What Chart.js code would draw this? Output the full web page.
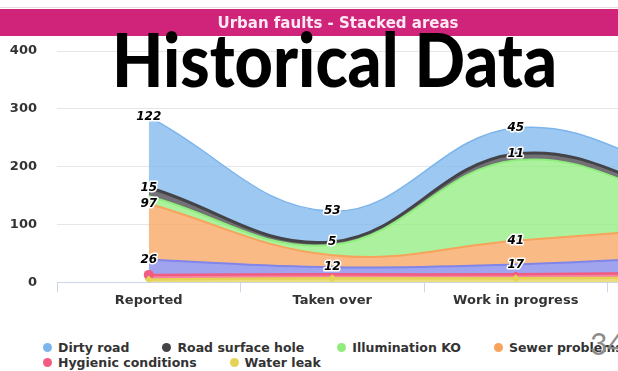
<!DOCTYPE html>
<html>
<head>
<meta charset="utf-8">
<script src="https://cdn.jsdelivr.net/npm/chart.js@4.4.1/dist/chart.umd.min.js"></script>
<style>
  html, body { margin: 0; padding: 0; background: #fff; }
  #slide { position: relative; width: 618px; height: 371px; overflow: hidden; }
  #chartBox { position: absolute; left: 0; top: 0; width: 800px; height: 320px; }
  #legend {
    position: absolute; left: 43px; top: 340px; width: 760px;
    display: flex; flex-wrap: wrap; column-gap: 33px;
    font: bold 12.5px "DejaVu Sans"; color: #333; line-height: 15px;
  }
  .item { display: flex; align-items: center; white-space: nowrap; }
  .dot { width: 9px; height: 9px; border-radius: 50%; margin-right: 6px; }
  #pageNo { position: absolute; left: 590px; top: 325px; font: 30px Lato; color: #8c8c8c; }
</style>
</head>
<body>
<div id="slide">
  <div id="chartBox"><canvas id="faultsChart" width="800" height="320"></canvas></div>
  <div id="legend"></div>
  <div id="pageNo">34</div>
</div>
<script>
const categories = ["Reported", "Taken over", "Work in progress", "Closed"];

// stacked from the bottom up
const waterLeak = [5, 7, 7, 8];
const hygienicConditions = [8, 7, 7, 9];
const damagedSigns = [26, 12, 17, 28];
const sewerProblems = [97, 21, 41, 51];
const illuminationKO = [13, 18, 139, 34];
const roadSurfaceHole = [15, 5, 11, 10];
const dirtyRoad = [122, 53, 45, 38];

const yTicks = [0, 100, 200, 300, 400];

function series(label, data, color, fill, opts) {
  return Object.assign({
    label: label,
    data: data,
    borderColor: color,
    backgroundColor: color + "bf",
    borderWidth: 2,
    fill: fill,
    pointRadius: 0
  }, opts || {});
}

const datasets = [
  series("Water leak", waterLeak, "#e4d354", "origin", {
    borderWidth: 2.5, pointStyle: "rectRot", pointRadius: [4, 4, 4, 0],
    pointBackgroundColor: "#e4d354", pointBorderWidth: 0
  }),
  series("Hygienic conditions", hygienicConditions, "#f15c80", "-1", {
    borderWidth: 2.5, pointRadius: [5, 0, 2.5, 0],
    pointBackgroundColor: "#f15c80", pointBorderWidth: 0
  }),
  series("Damaged signs", damagedSigns, "#8085e9", "-1", { showValues: true }),
  series("Sewer problems", sewerProblems, "#f7a35c", "-1", { showValues: true }),
  series("Illumination KO", illuminationKO, "#90ed7d", "-1"),
  series("Road surface hole", roadSurfaceHole, "#434348", "-1", { borderWidth: 3, showValues: true }),
  series("Dirty road", dirtyRoad, "#7cb5ec", "-1", { borderWidth: 1.5, showValues: true })
];

// magenta header bar behind the plot, big overlay caption on top
const slideDecor = {
  id: "slideDecor",
  beforeDraw(chart) {
    const ctx = chart.ctx;
    ctx.save();
    ctx.fillStyle = "#eadbe3";
    ctx.fillRect(0, 7, chart.width, 1);
    ctx.fillStyle = "#cf2479";
    ctx.fillRect(0, 9, chart.width, 27);
    ctx.fillStyle = "#fbeaf3";
    ctx.font = 'bold 15px "DejaVu Sans"';
    ctx.textAlign = "center";
    ctx.textBaseline = "alphabetic";
    ctx.fillText("Urban faults - Stacked areas", 338, 28);
    ctx.restore();
  },
  afterDraw(chart) {
    const ctx = chart.ctx;
    const text = "Historical Data";
    ctx.save();
    ctx.font = "900 75px Lato";
    const w = ctx.measureText(text).width;
    ctx.translate(112, 87);
    ctx.scale(445 / w, 1);
    ctx.fillStyle = "#000";
    ctx.textAlign = "left";
    ctx.textBaseline = "alphabetic";
    ctx.fillText(text, 0, 0);
    ctx.restore();
  }
};

// value labels at the top of each band, skipping any that would collide
const valueLabels = {
  id: "valueLabels",
  afterDatasetsDraw(chart) {
    const ctx = chart.ctx;
    const placed = [];
    ctx.save();
    ctx.font = 'italic bold 12px "DejaVu Sans"';
    ctx.textAlign = "center";
    ctx.textBaseline = "middle";
    ctx.lineJoin = "round";
    ctx.lineWidth = 3;
    ctx.strokeStyle = "#fff";
    ctx.fillStyle = "#000";
    for (let d = chart.data.datasets.length - 1; d >= 0; d--) {
      const ds = chart.data.datasets[d];
      if (!ds.showValues) continue;
      chart.getDatasetMeta(d).data.forEach((pt, i) => {
        const text = String(ds.data[i]);
        const w = ctx.measureText(text).width;
        const box = { l: pt.x - w / 2 - 2, r: pt.x + w / 2 + 2, t: pt.y - 7, b: pt.y + 7 };
        if (placed.some(o => o.l < box.r && box.l < o.r && o.t < box.b && box.t < o.b)) return;
        placed.push(box);
        ctx.strokeText(text, pt.x, pt.y);
        ctx.fillText(text, pt.x, pt.y);
      });
    }
    ctx.restore();
  }
};

const tickFont = { family: "DejaVu Sans", weight: "bold", size: 13 };

const faultsChart = new Chart(document.getElementById("faultsChart").getContext("2d"), {
  type: "line",
  data: { labels: categories, datasets: datasets },
  options: {
    responsive: false,
    animation: false,
    layout: { padding: { top: 51, left: 10, right: 9, bottom: 12 } },
    elements: { line: { tension: 0.4 } },
    plugins: {
      legend: { display: false },
      tooltip: { enabled: false }
    },
    scales: {
      x: {
        offset: true,
        grid: { offset: true, drawOnChartArea: false, tickLength: 10, color: "#ccd6eb" },
        border: { color: "#ccd6eb" },
        ticks: { padding: 0, color: "#333", font: tickFont }
      },
      y: {
        stacked: true,
        min: yTicks[0],
        max: yTicks[yTicks.length - 1],
        afterBuildTicks(scale) { scale.ticks = yTicks.map(v => ({ value: v })); },
        afterFit(scale) { scale.width = 47; },
        grid: { color: "#e6e6e6", drawTicks: false },
        border: { display: false },
        ticks: { padding: 20, color: "#333", font: tickFont }
      }
    }
  },
  plugins: [slideDecor, valueLabels]
});

// legend lists the series top band first
const legendBox = document.getElementById("legend");
datasets.slice().reverse().forEach(ds => {
  const item = document.createElement("div");
  item.className = "item";
  const dot = document.createElement("span");
  dot.className = "dot";
  dot.style.background = ds.borderColor;
  item.appendChild(dot);
  item.appendChild(document.createTextNode(ds.label));
  legendBox.appendChild(item);
});
</script>
</body>
</html>
